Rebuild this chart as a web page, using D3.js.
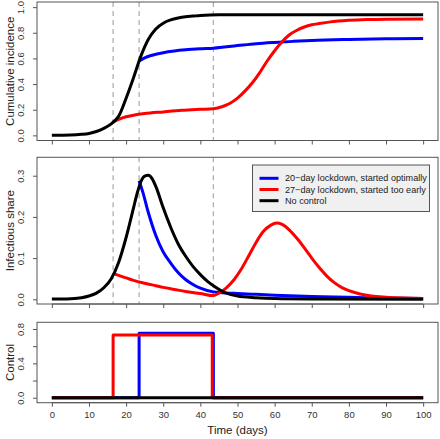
<!DOCTYPE html>
<html><head><meta charset="utf-8">
<script src="https://cdn.jsdelivr.net/npm/d3@7"></script>
<style>body{margin:0;background:#fff}svg{display:block}text{font-family:"Liberation Sans",Arial,sans-serif}</style>
</head><body>
<svg id="c" width="440" height="439"></svg>
<script>
// ---------- data ----------
const xTicks = [0,10,20,30,40,50,60,70,80,90,100];
const markDays = [16.5, 23.5, 43.5];

// Cumulative incidence
const cumNoneT = [0,5,8,10,12,14,16,17,18,20,22,24,26,28,30,32,34,36,38,40,45,50,100];
const cumNoneV = [0.001,0.003,0.008,0.015,0.03,0.055,0.09,0.115,0.15,0.29,0.45,0.62,0.75,0.83,0.875,0.9,0.915,0.925,0.93,0.935,0.94,0.94,0.94];
const cumOptT = [23.5,25,27,30,33,36,40,43.5,50,55,60,65,70,80,90,100];
const cumOptV = [0.58,0.605,0.625,0.645,0.658,0.667,0.675,0.68,0.70,0.715,0.725,0.733,0.74,0.748,0.753,0.756];
const cumEarlyT = [16.5,18,20,22,25,30,35,40,43.5,46,48,50,52,54,56,58,60,62,64,66,68,70,72,75,80,85,90,100];
const cumEarlyV = [0.105,0.125,0.145,0.157,0.17,0.183,0.195,0.203,0.208,0.225,0.25,0.29,0.345,0.41,0.49,0.58,0.66,0.73,0.785,0.82,0.845,0.862,0.872,0.885,0.897,0.903,0.906,0.908];

// Infectious share
const infNoneT = [0,4,8,10,12,14,16,18,20,22,23,24,25,26,27,28,30,32,34,36,38,40,42,44,46,48,50,55,60,70,100];
const infNoneV = [0.0005,0.001,0.004,0.008,0.015,0.028,0.05,0.09,0.15,0.222,0.258,0.286,0.299,0.301,0.293,0.274,0.222,0.175,0.135,0.105,0.08,0.06,0.043,0.03,0.019,0.012,0.008,0.004,0.002,0.001,0.0003];
const infOptT = [23.5,24.5,26,28,30,32,34,36,38,40,43.5,46,50,55,60,70,80,90,100];
const infOptV = [0.288,0.26,0.21,0.155,0.115,0.088,0.065,0.048,0.036,0.027,0.018,0.016,0.014,0.012,0.01,0.007,0.005,0.003,0.002];
const infEarlyT = [16.5,18,20,22,25,28,30,33,36,40,43.5,45,47,49,51,53,55,57,59,60.5,62,64,66,68,70,72,74,76,78,80,83,86,90,95,100];
const infEarlyV = [0.063,0.058,0.052,0.046,0.039,0.033,0.029,0.024,0.019,0.014,0.009,0.015,0.028,0.047,0.073,0.105,0.138,0.165,0.18,0.185,0.182,0.168,0.148,0.125,0.1,0.077,0.057,0.041,0.029,0.021,0.013,0.008,0.005,0.003,0.002];

// Control
const ctlNoneT = [0,100];
const ctlNoneV = [0,0];
const ctlOptT = [0,23.5,43.5,100];
const ctlOptV = [0,0.75,0,0];
const ctlEarlyT = [0,16.5,43.2,100];
const ctlEarlyV = [0,0.73,0,0];

const legendLabels = ["20\u2212day lockdown, started optimally","27\u2212day lockdown, started too early","No control"];
const colors = {opt:"#0000ff", early:"#ff0000", none:"#000000"};

// ---------- drawing ----------
const svg = d3.select("#c");
const x = d3.scaleLinear().domain([-4,104]).range([37,438]);
const boxL = 37, boxR = 438;
const AX = "#555";

const panels = [
  {top:2, bot:140.5, dom:[-0.04,1.04], ticks:[0,0.2,0.4,0.6,0.8,1.0], lab:[0,0.2,0.4,0.6,0.8,1.0], fmt:d3.format(".1f"), title:"Cumulative incidence", dashes:true, xlabels:false,
   series:[[cumOptT,cumOptV,colors.opt,"mono"],[cumEarlyT,cumEarlyV,colors.early,"mono"],[cumNoneT,cumNoneV,colors.none,"mono"]]},
  {top:157.3, bot:304, dom:[-0.0114,0.3447], ticks:[0,0.1,0.2,0.3], lab:[0,0.1,0.2,0.3], fmt:d3.format(".1f"), title:"Infectious share", dashes:true, xlabels:false,
   series:[[infOptT,infOptV,colors.opt,"mono"],[infEarlyT,infEarlyV,colors.early,"mono"],[infNoneT,infNoneV,colors.none,"mono"]]},
  {top:322.3, bot:402.7, dom:[-0.058,0.878], ticks:[0,0.2,0.4,0.6,0.8], lab:[0,0.4,0.8], fmt:d3.format(".1f"), title:"Control", dashes:false, xlabels:true,
   series:[[ctlOptT,ctlOptV,colors.opt,"step"],[ctlEarlyT,ctlEarlyV,colors.early,"step"],[ctlNoneT,ctlNoneV,colors.none,"step"]]}
];

panels.forEach((p,i)=>{
  const y = d3.scaleLinear().domain(p.dom).range([p.bot,p.top]);
  const g = svg.append("g");
  if (p.dashes) {
    g.selectAll("line.dash").data(markDays).join("line")
      .attr("x1",d=>x(d)).attr("x2",d=>x(d)).attr("y1",p.top).attr("y2",p.bot)
      .attr("stroke","#b0b0b0").attr("stroke-width",1.3).attr("stroke-dasharray","5,4");
  }
  p.series.forEach(([T,V,col,kind])=>{
    const pts = T.map((t,k)=>[t,V[k]]);
    const line = d3.line().x(d=>x(d[0])).y(d=>y(d[1]))
      .curve(kind==="step"?d3.curveStepAfter:d3.curveMonotoneX);
    g.append("path").attr("d",line(pts)).attr("fill","none").attr("stroke",col)
      .attr("stroke-width",3).attr("stroke-linejoin","round").attr("stroke-linecap","butt");
  });
  g.append("rect").attr("x",boxL).attr("y",p.top).attr("width",boxR-boxL).attr("height",p.bot-p.top)
    .attr("fill","none").attr("stroke",AX).attr("stroke-width",1);
  const ya = d3.axisLeft(y).tickValues(p.ticks).tickSize(4).tickFormat(d=>p.lab.some(v=>Math.abs(v-d)<1e-9)?p.fmt(d):"");
  const yg = g.append("g").attr("transform",`translate(${boxL},0)`).call(ya);
  yg.attr("font-family",null);
  yg.select(".domain").attr("stroke-width",0);
  yg.selectAll(".tick line").attr("stroke",AX);
  yg.selectAll(".tick text").attr("fill","#333").attr("font-size",9.5)
    .attr("text-anchor","middle").attr("dy",null).attr("x",0).attr("y",0)
    .attr("transform","translate(-13,0) rotate(-90)");
  g.append("text").attr("transform",`translate(9.5,${(p.top+p.bot)/2}) rotate(-90)`)
    .attr("text-anchor","middle").attr("dy","0.35em").attr("font-size",11.5).attr("fill","#222").text(p.title);
  const xa = d3.axisBottom(x).tickValues(xTicks).tickSize(4).tickFormat(p.xlabels?d3.format("d"):()=>"");
  const xg = g.append("g").attr("transform",`translate(0,${p.bot})`).call(xa);
  xg.attr("font-family",null);
  xg.select(".domain").attr("stroke",AX).attr("d",`M${x(0)},0H${x(100)}`);
  xg.selectAll(".tick line").attr("stroke",AX);
  xg.selectAll(".tick text").attr("fill","#333").attr("font-size",9.5).attr("y",9);
});

svg.append("text").attr("x",x(50)).attr("y",434).attr("text-anchor","middle")
  .attr("font-size",11.5).attr("fill","#222").text("Time (days)");

const lg = svg.append("g");
lg.append("rect").attr("x",252.5).attr("y",165).attr("width",177).attr("height",46.5)
  .attr("fill","#f0f0f0").attr("stroke","#555").attr("stroke-width",1);
[colors.opt,colors.early,colors.none].forEach((c,k)=>{
  const yy = 178.3 + k*11.2;
  lg.append("line").attr("x1",259.5).attr("x2",278.5).attr("y1",yy).attr("y2",yy)
    .attr("stroke",c).attr("stroke-width",3);
  lg.append("text").attr("x",285).attr("y",yy).attr("dy","0.35em").attr("font-size",9.1)
    .attr("fill","#222").text(legendLabels[k]);
});
</script>
</body></html>
